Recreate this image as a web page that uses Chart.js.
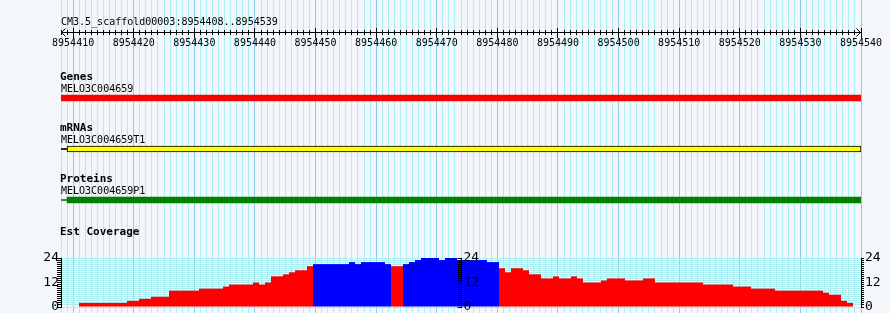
<!DOCTYPE html>
<html>
<head>
<meta charset="utf-8">
<title>CM3.5_scaffold00003:8954408..8954539</title>
<script src="https://cdn.jsdelivr.net/npm/chart.js@4.4.1/dist/chart.umd.min.js"></script>
<style>
  html, body { margin: 0; padding: 0; background: #f3f6fa; }
  canvas { display: block; }
</style>
</head>
<body>
<canvas id="browser" width="890" height="313"></canvas>
<script>
// Region shown
const regionLabel = 'CM3.5_scaffold00003:8954408..8954539';
const viewStart = 8954408;
const viewEnd = 8954540;
const rulerLabels = ['8954410', '8954420', '8954430', '8954440', '8954450', '8954460', '8954470',
    '8954480', '8954490', '8954500', '8954510', '8954520', '8954530', '8954540'];

// Feature tracks
const trackTitles = ['Genes', 'mRNAs', 'Proteins'];
const featureNames = ['MELO3C004659', 'MELO3C004659T1', 'MELO3C004659P1'];
const featureStarts = [8954408, 8954409, 8954409];
const featureEnds = [8954540, 8954540, 8954540];
const linkStarts = [null, 8954408, 8954408]; // thin line coming in from the left

// Est coverage, one value per bin
const coverageTitle = 'Est Coverage';
const coverage = [0, 0, 0,
    2, 2, 2, 2, 2, 2, 2, 2,
    3, 3, 4, 4, 5, 5, 5,
    8, 8, 8, 8, 8, 9, 9, 9, 9, 10,
    11, 11, 11, 11, 12, 11, 12, 15, 15, 16, 17, 18, 18, 20,
    21, 21, 21, 21, 21, 21, 22, 21, 22, 22, 22, 22, 21, 20, 20,
    21, 22, 23, 24, 24, 24, 23, 24, 24,
    23, 23, 23, 23, 23, 22, 22,
    19, 17, 19, 19, 18, 16, 16, 14, 14, 15, 14, 14, 15, 14,
    12, 12, 12, 13, 14, 14, 14, 13, 13, 13, 14, 14,
    12, 12, 12, 12, 12, 12, 12, 12, 11, 11, 11, 11, 11, 10, 10, 10, 9, 9, 9, 9,
    8, 8, 8, 8, 8, 8, 8, 8, 7, 6, 6, 3, 2];
const coverageTicks = ['0', '12', '24'];
const coverageMax = 24;

// Styles
const mono = '"DejaVu Sans Mono", "Liberation Mono", monospace';
const gridMinor = '#aaeef2';
const gridMajor = '#8bc8ee';
const featureColors = ['#ff0000', '#ffff00', '#008000'];
const linkColors = [null, '#000000', '#008000'];
const lowColor = '#ff0000';
const highColor = '#0000ff';
const highCut = 20;

// Layout (the layout axis counts pixels from the top of the panel)
const leftMargin = 61;
const rightMargin = 29;
const panelHeight = 258;
const plotHeight = 49;
const footHeight = 6;
const titleY = 25;
const rulerY = 32;
const rowY = [98, 149, 200];
const coverageTitleY = 235;
const midAxisPos = (viewStart + viewEnd) / 2;

// keep scales from taking extra room or padding in the layout
const fixWidth = w => s => { s.width = w; s.paddingTop = 0; s.paddingBottom = 0; };
const noRoomX = s => { s.height = 0; s.paddingLeft = 0; s.paddingRight = 0; };
const majorTicks = s => { s.ticks = rulerLabels.map(v => ({ value: Number(v) })); };

const featureData = trackTitles.map((t, k) => ({ y: rowY[k], x: [featureStarts[k], featureEnds[k]] }));
const linkIdx = linkStarts.map((s, k) => k).filter(k => linkStarts[k] !== null);

const overlay = {
    id: 'overlay',
    afterDatasetsDraw(chart) {
        const { ctx } = chart;
        const { x, yL, yCov } = chart.scales;
        const left = Math.round(x.getPixelForValue(viewStart));
        const right = Math.round(x.getPixelForValue(viewEnd));
        ctx.save();
        ctx.fillStyle = '#000';
        ctx.strokeStyle = '#000';
        ctx.lineWidth = 1;
        ctx.textAlign = 'left';
        ctx.textBaseline = 'alphabetic';

        ctx.font = `10px ${mono}`;
        ctx.fillText(regionLabel, left, yL.getPixelForValue(titleY));
        trackTitles.forEach((t, k) => {
            ctx.font = `bold 11px ${mono}`;
            ctx.fillText(t, left - 1, yL.getPixelForValue(rowY[k] - 18));
            ctx.font = `10px ${mono}`;
            ctx.fillText(featureNames[k], left, yL.getPixelForValue(rowY[k] - 6));
        });
        ctx.font = `bold 11px ${mono}`;
        ctx.fillText(coverageTitle, left - 1, yL.getPixelForValue(coverageTitleY));

        // ruler arrow heads
        const ry = Math.round(yL.getPixelForValue(rulerY)) + 0.5;
        ctx.beginPath();
        ctx.moveTo(left + 4.5, ry - 4); ctx.lineTo(left + 0.5, ry); ctx.lineTo(left + 4.5, ry + 4);
        ctx.moveTo(right - 4.5, ry - 4); ctx.lineTo(right - 0.5, ry); ctx.lineTo(right - 4.5, ry + 4);
        ctx.stroke();

        // coverage axis in the middle of the panel
        const mx = Math.round(x.getPixelForValue(midAxisPos)) + 0.5;
        ctx.beginPath();
        ctx.moveTo(mx, Math.round(yCov.getPixelForValue(coverageMax)));
        ctx.lineTo(mx, Math.round(yCov.getPixelForValue(0)) + 1);
        yCov.ticks.forEach(t => {
            const ty = Math.round(yCov.getPixelForValue(t.value)) + 0.5;
            ctx.moveTo(mx - 4, ty);
            ctx.lineTo(mx, ty);
        });
        ctx.stroke();
        ctx.font = `13px ${mono}`;
        ctx.textBaseline = 'middle';
        coverageTicks.forEach(l => ctx.fillText(l, mx + 2, yCov.getPixelForValue(Number(l))));
        ctx.restore();
    }
};

const rulerAxis = (y, len, opts) => Object.assign({
    type: 'linear', axis: 'x', position: { yL: y }, min: viewStart, max: viewEnd, offset: false,
    ticks: { stepSize: 1, display: false, autoSkip: false },
    grid: { offset: false, drawOnChartArea: false, tickLength: len, tickColor: '#000' },
    border: { display: false },
    afterFit: noRoomX
}, opts);

new Chart(document.getElementById('browser'), {
    type: 'bar',
    data: {
        datasets: [
            {
                label: 'coverage',
                data: coverage.map((v, i) => ({ x: i + 0.5, y: v })),
                xAxisID: 'xCov',
                yAxisID: 'yCov',
                backgroundColor: coverage.map(v => v > highCut ? highColor : lowColor),
                borderWidth: 0,
                inflateAmount: 0,
                barPercentage: 1,
                categoryPercentage: 1,
                grouped: false
            },
            {
                label: 'features',
                indexAxis: 'y',
                data: featureData,
                xAxisID: 'x',
                yAxisID: 'yL',
                backgroundColor: featureColors,
                borderColor: '#000',
                borderWidth: [0, 1, 0],
                borderSkipped: false,
                barThickness: 6,
                grouped: false
            },
            {
                label: 'links',
                indexAxis: 'y',
                data: linkIdx.map(k => ({ y: rowY[k], x: [linkStarts[k], featureStarts[k]] })),
                xAxisID: 'x',
                yAxisID: 'yL',
                backgroundColor: linkIdx.map(k => linkColors[k]),
                borderWidth: 0,
                barThickness: 1,
                grouped: false
            }
        ]
    },
    options: {
        responsive: false,
        animation: false,
        devicePixelRatio: 1,
        events: [],
        layout: { padding: 0 },
        plugins: { legend: { display: false }, tooltip: { enabled: false } },
        scales: {
            x: {
                type: 'linear', position: 'bottom', min: viewStart, max: viewEnd, offset: false,
                ticks: { stepSize: 1, display: false, autoSkip: false },
                grid: {
                    offset: false,
                    drawTicks: false,
                    color: c => (c.tick && c.tick.value % 10 === 0) ? gridMajor : gridMinor
                },
                border: { display: false },
                afterFit: noRoomX
            },
            xCov: { type: 'linear', display: false, offset: false, min: 0, max: 800 / 6 },
            xRuler: rulerAxis(rulerY, 5, {
                afterBuildTicks: majorTicks,
                ticks: {
                    autoSkip: false, maxRotation: 0, padding: 0, color: '#000',
                    font: { family: mono, size: 10 },
                    callback: (v, i) => rulerLabels[i]
                },
                border: { color: '#000' }
            }),
            xRulerUp: rulerAxis(rulerY - 4, 4, { afterBuildTicks: majorTicks }),
            xRulerMinor: rulerAxis(rulerY, 3),
            xRulerMinorUp: rulerAxis(rulerY - 2, 2),
            yL: {
                type: 'linear', position: 'left', stack: 'panel', stackWeight: panelHeight, weight: 3,
                min: 0, max: panelHeight, reverse: true, offset: false, display: false,
                afterFit: fixWidth(leftMargin)
            },
            yCov: {
                type: 'linear', position: 'left', stack: 'panel', stackWeight: plotHeight, weight: 2,
                min: 0, max: coverageMax, offset: false,
                ticks: {
                    stepSize: 1, autoSkip: false, padding: -2, color: '#000',
                    font: { family: mono, size: 13 },
                    callback: v => coverageTicks.includes(String(v)) ? String(v) : ''
                },
                grid: { color: gridMinor, tickLength: 4, tickColor: '#000' },
                border: { color: '#000' },
                afterFit: fixWidth(leftMargin)
            },
            yLB: {
                type: 'linear', position: 'left', stack: 'panel', stackWeight: footHeight, weight: 1,
                display: false, afterFit: fixWidth(leftMargin)
            },
            yR: {
                type: 'linear', position: 'right', stack: 'panel', stackWeight: panelHeight, weight: 1,
                display: false, afterFit: fixWidth(rightMargin)
            },
            yCovR: {
                type: 'linear', position: 'right', stack: 'panel', stackWeight: plotHeight, weight: 2,
                min: 0, max: coverageMax, offset: false,
                ticks: {
                    stepSize: 1, autoSkip: false, padding: 1, color: '#000',
                    font: { family: mono, size: 13 },
                    callback: v => coverageTicks.includes(String(v)) ? String(v) : ''
                },
                grid: { drawOnChartArea: false, tickLength: 3, tickColor: '#000' },
                border: { color: '#000' },
                afterFit: fixWidth(rightMargin)
            },
            yRB: {
                type: 'linear', position: 'right', stack: 'panel', stackWeight: footHeight, weight: 3,
                display: false, afterFit: fixWidth(rightMargin)
            }
        }
    },
    plugins: [overlay]
});
</script>
</body>
</html>
